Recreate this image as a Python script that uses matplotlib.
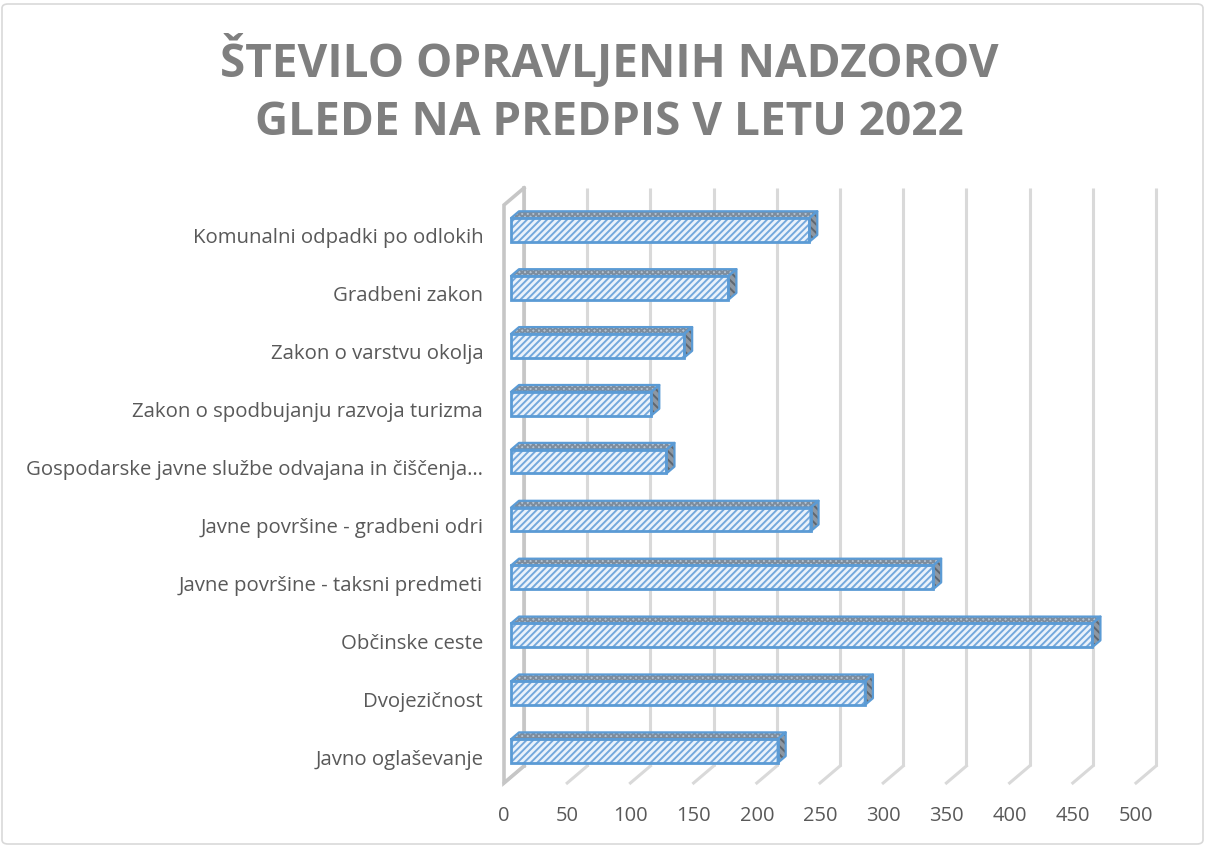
import matplotlib
matplotlib.use("Agg")
import matplotlib.pyplot as plt
from matplotlib.patches import Polygon, FancyBboxPatch

# ---- data ----
categories = [
    "Javno oglaševanje",
    "Dvojezičnost",
    "Občinske ceste",
    "Javne površine - taksni predmeti",
    "Javne površine - gradbeni odri",
    "Gospodarske javne službe odvajana in čiščenja…",
    "Zakon o spodbujanju razvoja turizma",
    "Zakon o varstvu okolja",
    "Gradbeni zakon",
    "Komunalni odpadki po odlokih",
]
values = [211, 280, 460, 334, 237, 123, 111, 137, 172, 236]
xticks = [0, 50, 100, 150, 200, 250, 300, 350, 400, 450, 500]
title = "ŠTEVILO OPRAVLJENIH NADZOROV\nGLEDE NA PREDPIS V LETU 2022"

# ---- styling ----
W, H = 1207, 846
fig = plt.figure(figsize=(W / 100, H / 100), dpi=100)
plt.rcParams['font.family'] = ['Open Sans', 'DejaVu Sans']
plt.rcParams['hatch.linewidth'] = 1.4

TXT = '#595959'
GRID = '#d9d9d9'
WALL = '#c6c6c6'
BLUE = '#5b9bd5'
FACE = '#eaf2fb'

# pixel geometry -> axes placement
L, R, T, B = 486, 1180, 170, 783
ax = fig.add_axes([L / W, (H - B) / H, (R - L) / W, (B - T) / H])
pxu = 1.264           # px per value unit
py = 57.9             # px per category
x0px, y0px = 504, 757
ax.set_xlim((L - x0px) / pxu, (R - x0px) / pxu)
ax.set_ylim((y0px - B) / py, (y0px - T) / py)
for s in ax.spines.values():
    s.set_visible(False)

Dx = 20 / pxu         # depth offset in x units
Dy = 17 / py          # depth offset in y units
floor_y = (y0px - B) / py
top_y = (y0px - 205) / py
f = 0.35              # bar front face depth fraction
b = 0.40              # bar depth fraction
h = 0.41              # bar height (category units)

# back wall gridlines and floor lines
for t in xticks:
    ax.plot([t + Dx, t + Dx], [floor_y + Dy, top_y + Dy], color=GRID, lw=2.2,
            zorder=1, clip_on=False, solid_capstyle='butt')
    ax.plot([t, t + Dx], [floor_y, floor_y + Dy], color=GRID, lw=2.2,
            zorder=1, clip_on=False)
# left wall
ax.plot([Dx, 0, 0, Dx], [top_y + Dy, top_y, floor_y, floor_y + Dy], color=WALL,
        lw=2.6, zorder=2, clip_on=False, solid_joinstyle='miter')
ax.plot([Dx, Dx], [floor_y + Dy, top_y + Dy], color=WALL, lw=2.6, zorder=2,
        clip_on=False)

# bars
ys = [i + f * Dy for i in range(len(values))]
left = f * Dx
ax.barh(ys, values, left=left, height=h, color=FACE, edgecolor='#74a8dc', lw=0,
        hatch='/////', zorder=3)
ax.barh(ys, values, left=left, height=h, fill=False, edgecolor=BLUE, lw=2,
        zorder=4)
for yc, v in zip(ys, values):
    x1 = left + v
    yt, yb = yc + h / 2, yc - h / 2
    top = [(left, yt), (x1, yt), (x1 + b * Dx, yt + b * Dy), (left + b * Dx, yt + b * Dy)]
    side = [(x1, yb), (x1, yt), (x1 + b * Dx, yt + b * Dy), (x1 + b * Dx, yb + b * Dy)]
    ax.add_patch(Polygon(top, closed=True, facecolor='#b4c3d3', edgecolor='#7d8c9c',
                         lw=0, hatch='xxxxxx', zorder=3, clip_on=False))
    ax.add_patch(Polygon(top, closed=True, fill=False, edgecolor=BLUE, lw=1.6,
                         zorder=4, clip_on=False, joinstyle='round'))
    ax.add_patch(Polygon(side, closed=True, facecolor='#8e98a3', edgecolor='#5f6770',
                         lw=0, hatch='\\\\\\\\', zorder=3, clip_on=False))
    ax.add_patch(Polygon(side, closed=True, fill=False, edgecolor=BLUE, lw=1.6,
                         zorder=4, clip_on=False, joinstyle='round'))

# ticks
ax.set_xticks(xticks)
ax.set_xticklabels([str(t) for t in xticks])
ax.tick_params(axis='x', length=0, pad=16.5, labelsize=14.5, labelcolor=TXT)
ax.set_yticks(range(len(categories)))
ax.set_yticklabels(categories)
ax.tick_params(axis='y', length=0, pad=2, labelsize=14.7, labelcolor=TXT)

# title
fig.text(0.5045, 1 - 90 / H, title, ha='center', va='center', fontsize=33,
         fontweight='bold', color='#7f7f7f', linespacing=1.3)

# chart border
fig.patches.append(FancyBboxPatch((2 / W, 2 / H), (W - 6) / W, (H - 6) / H,
                                  boxstyle='round,pad=0,rounding_size=0.005',
                                  transform=fig.transFigure, facecolor='none',
                                  edgecolor='#d9d9d9', lw=1.2))

fig.savefig('out.png', dpi=100)
